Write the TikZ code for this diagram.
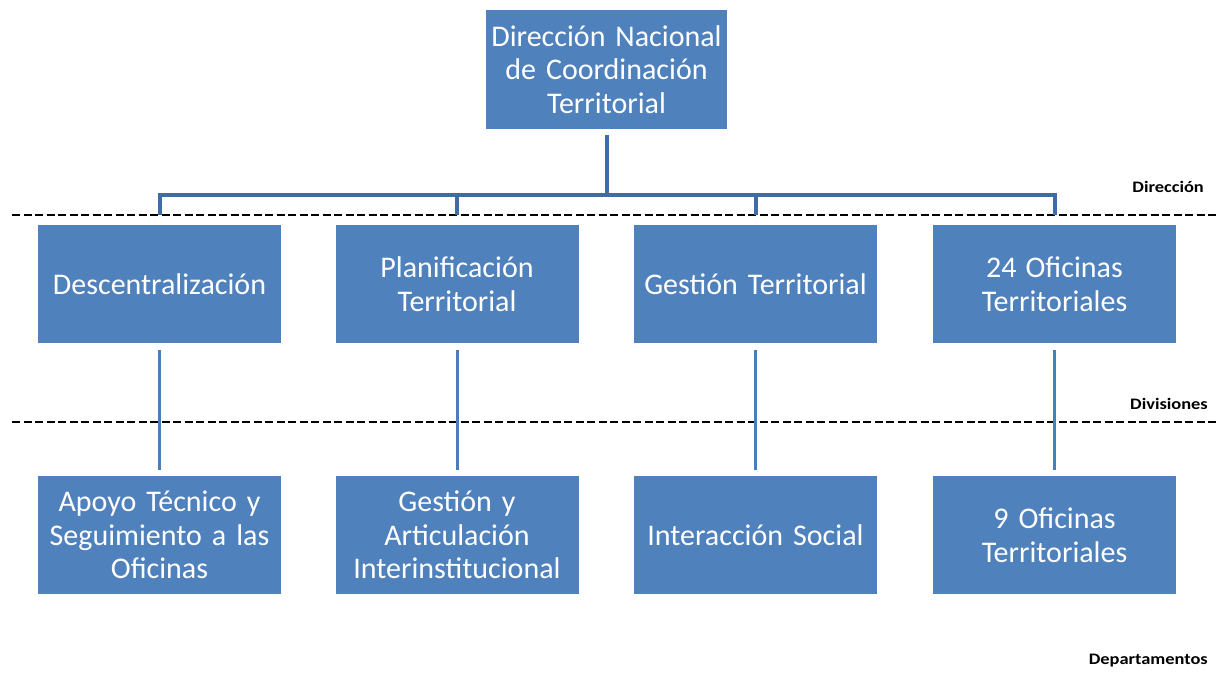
\documentclass[tikz,border=0pt]{standalone}
\usepackage{fontspec}
\setmainfont{Carlito}
\newfontfamily\labelfont{Carlito}[FakeStretch=1.15]
\newcommand\tightspaces{\fontdimen2\font=3pt\fontdimen3\font=0pt\fontdimen4\font=0pt}
\definecolor{boxblue}{HTML}{4F81BD}
\definecolor{busblue}{HTML}{3F6CA5}
\definecolor{lineblue}{HTML}{4A7EBB}
\tikzset{
  unit/.style={fill=boxblue, text=white, minimum width=243pt, minimum height=118pt,
    text width=240pt, align=center, inner sep=0pt, font=\fontsize{30}{33.5}\selectfont\tightspaces},
  topconn/.style={draw=busblue, line width=4pt},
  lowconn/.style={draw=lineblue, line width=3pt},
  levelline/.style={draw=black, line width=2pt, dash pattern=on 8pt off 3.5pt},
  levellabel/.style={anchor=east, inner sep=0pt, font=\labelfont\fontsize{16}{18}\selectfont\bfseries}
}
\begin{document}
\begin{tikzpicture}[x=1pt, y=-1pt]
\useasboundingbox (0,0) rectangle (1218,675);
% level separators
\coordinate (l1a) at (12,215); \coordinate (l1b) at (1218,215);
\coordinate (l2a) at (12,422); \coordinate (l2b) at (1218,422);
\draw[levelline] (l1a) -- (l1b);
\draw[levelline] (l2a) -- (l2b);
\node[levellabel] (ldir) at (1204,187) {Dirección};
\node[levellabel] (ldiv) at (1208,404) {Divisiones};
\node[levellabel] (ldep) at (1208,661) {Departamentos};
% boxes
\node[unit, minimum width=241pt, minimum height=119pt] (top) at (606.5,69.5) {Dirección Nacional\\de Coordinación\\Territorial};
\node[unit] (d1) at (159.5,284) {Descentralización};
\node[unit] (d2) at (457,284) {Planificación\\Territorial};
\node[unit] (d3) at (755.5,284) {Gestión Territorial};
\node[unit] (d4) at (1054.5,284) {24\hspace{9pt}Oficinas\\Territoriales};
\node[unit] (p1) at (159.5,535) {Apoyo Técnico y\\Seguimiento a las\\Oficinas};
\node[unit] (p2) at (457,535) {Gestión y\\Articulación\\Interinstitucional};
\node[unit] (p3) at (755.5,535) {Interacción Social};
\node[unit] (p4) at (1054.5,535) {9 Oficinas\\Territoriales};
% connectors
\coordinate (bus) at (606.5,195);
\draw[topconn, shorten <=6pt] (top.south) -- (bus);
\draw[topconn] ([xshift=-2pt]bus -| d1) -- ([xshift=2pt]bus -| d4);
\foreach \n in {d1,d2,d3,d4}{
  \draw[topconn, shorten >=10pt] (bus -| \n) -- (\n.north);
}
\foreach \a/\b in {d1/p1,d2/p2,d3/p3,d4/p4}{
  \draw[lowconn, shorten <=7pt, shorten >=6pt] (\a.south) -- (\b.north);
}
\end{tikzpicture}
\end{document}
